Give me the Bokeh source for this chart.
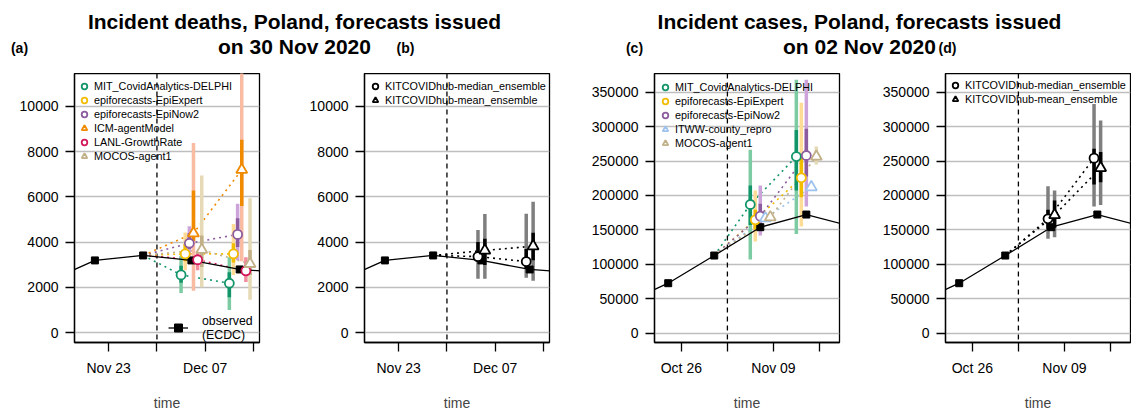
import math
import pandas as pd
from bokeh.plotting import figure
from bokeh.models import (Range1d, FixedTicker, BasicTickFormatter, Span, Legend,
                          LegendItem, Label)
from bokeh.layouts import column, row
from bokeh.embed import file_html
from bokeh.resources import INLINE

FONT = "Liberation Sans"
DAY = 86400000.0
NaN = float("nan")


def ms(s):
    return pd.Timestamp(s).value / 1e6


# ---------------------------------------------------------------- deaths data
death_obs_dates = ["2020-11-14", "2020-11-21", "2020-11-28", "2020-12-05", "2020-12-12", "2020-12-19"]
death_obs = [2230, 3190, 3410, 3190, 2790, 2640]
death_forecast_date = "2020-11-30"
death_last_obs = "2020-11-28"
death_targets = ["2020-12-05", "2020-12-12"]
death_xticks = ["2020-11-23", "2020-11-30", "2020-12-07", "2020-12-14"]
death_xlabels = ["Nov 23", "", "Dec 07", ""]
death_yticks = [0, 2000, 4000, 6000, 8000, 10000]

# quantiles (2.5%, 25%, 50%, 75%, 97.5%) for 1 and 2 weeks ahead
d_mit = [[1750, 2200, 2550, 2950, 3400], [1000, 1560, 2180, 2670, 3330]]
d_epiexpert = [[2750, 3150, 3480, 3900, 4420], [2550, 3100, 3480, 3950, 4800]]
d_epinow2 = [[3400, 3700, 3950, 4400, 4700], [3200, 3780, 4340, 5050, 5700]]
d_icm = [[1850, 4050, 4390, 6280, 8380], [3150, 5600, 7200, 8530, 12500]]
d_lanl = [[2750, 3000, 3220, 3400, 3600], [2230, 2520, 2730, 2970, 3330]]
d_mocos = [[2000, 2900, 3660, 4290, 6950], [1450, 2540, 3040, 3650, 5940]]
d_median_ens = [[2380, 3150, 3360, 4000, 4540], [2420, 2830, 3140, 3700, 5250]]
d_mean_ens = [[2380, 2990, 3630, 4150, 5240], [2290, 3200, 3820, 4410, 5790]]

death_models = ["MIT_CovidAnalytics-DELPHI", "epiforecasts-EpiExpert", "epiforecasts-EpiNow2",
                "ICM-agentModel", "LANL-GrowthRate", "MOCOS-agent1"]
death_quants = [d_mit, d_epiexpert, d_epinow2, d_icm, d_lanl, d_mocos]

# ---------------------------------------------------------------- cases data
case_obs_dates = ["2020-10-17", "2020-10-24", "2020-10-31", "2020-11-07", "2020-11-14", "2020-11-21"]
case_obs = [41500, 72400, 112600, 153800, 172200, 154600]
case_forecast_date = "2020-11-02"
case_last_obs = "2020-10-31"
case_targets = ["2020-11-07", "2020-11-14"]
case_xticks = ["2020-10-26", "2020-11-02", "2020-11-09", "2020-11-16"]
case_xlabels = ["Oct 26", "", "Nov 09", ""]
case_yticks = [0, 50000, 100000, 150000, 200000, 250000, 300000, 350000]

c_mit = [[107000, 157000, 186800, 214400, 266300], [144000, 207000, 256500, 295000, 368000]]
c_epiexpert = [[133000, 150000, 164500, 179000, 207000], [154800, 197400, 225600, 258000, 334600]]
c_epinow2 = [[141700, 161000, 169800, 187800, 214400], [183900, 227500, 258000, 296800, 368000]]
c_itww = [[NaN, NaN, 166900, NaN, NaN], [NaN, NaN, 212000, NaN, NaN]]
c_mocos = [[164000, 166500, 168300, 170500, 173000], [245000, 251000, 256500, 262000, 271000]]
c_median_ens = [[137000, 151500, 166000, 179000, 213400], [184000, 216000, 254100, 268000, 333000]]
c_mean_ens = [[139200, 153000, 171500, 192600, 207000], [186000, 219000, 240000, 263000, 309000]]

case_models = ["MIT_CovidAnalytics-DELPHI", "epiforecasts-EpiExpert", "epiforecasts-EpiNow2",
               "ITWW-county_repro", "MOCOS-agent1"]
case_quants = [c_mit, c_epiexpert, c_epinow2, c_itww, c_mocos]

ens_models = ["KITCOVIDhub-median_ensemble", "KITCOVIDhub-mean_ensemble"]

# ---------------------------------------------------------------- styles
STYLE = {
    "MIT_CovidAnalytics-DELPHI": ("circle", "#13956A", "#7DCBA3"),
    "epiforecasts-EpiExpert": ("circle", "#F2BC00", "#FFDC96"),
    "epiforecasts-EpiNow2": ("circle", "#8C5C9F", "#CCA4DA"),
    "ICM-agentModel": ("triangle", "#F08A00", "#F9BBA2"),
    "LANL-GrowthRate": ("circle", "#D2185B", "#F08C9C"),
    "MOCOS-agent1": ("triangle", "#C2B088", "#E6D9B6"),
    "ITWW-county_repro": ("triangle", "#9EC2EE", "#C9DDF5"),
    "KITCOVIDhub-median_ensemble": ("circle", "black", "#7F7F7F"),
    "KITCOVIDhub-mean_ensemble": ("triangle", "black", "#7F7F7F"),
}


def make_panel(left, right, xr, yr, yticks, xticks, xlabels,
               obs_dates, obs_vals, fdate, last_obs, targets, names, quants, dx,
               leg_loc, obs_legend=False):
    p = figure(frame_width=185, frame_height=269, title=None,
               x_range=Range1d(ms(xr[0]), ms(xr[1])), y_range=Range1d(*yr),
               output_backend="svg", toolbar_location=None,
               min_border_left=left, min_border_right=right,
               min_border_top=0, min_border_bottom=69)
    p.outline_line_color = "black"
    p.outline_line_width = 1.3
    p.outline_line_alpha = 1.0
    p.xgrid.visible = False
    p.ygrid.ticker = FixedTicker(ticks=yticks)
    p.ygrid.grid_line_color = "#BEBEBE"
    p.ygrid.grid_line_width = 1.5

    xa, ya = p.xaxis[0], p.yaxis[0]
    for ax in (xa, ya):
        ax.major_tick_in = 0
        ax.major_tick_out = 9
        ax.minor_tick_in = 0
        ax.minor_tick_out = 0
        ax.major_tick_line_width = 1.3
        ax.axis_line_width = 1.3
        ax.major_label_text_font = FONT
        ax.major_label_text_font_size = "14px"
        ax.major_label_text_color = "black"
    ya.ticker = FixedTicker(ticks=yticks)
    ya.formatter = BasicTickFormatter(use_scientific=False)
    ya.major_label_standoff = 7
    xt = [ms(t) for t in xticks]
    xa.ticker = FixedTicker(ticks=xt)
    xa.major_label_overrides = {v: lab for v, lab in zip(xt, xlabels)}
    xa.major_label_standoff = 8
    xa.axis_label = "time"
    xa.axis_label_text_font = FONT
    xa.axis_label_text_font_size = "14px"
    xa.axis_label_text_font_style = "normal"
    xa.axis_label_standoff = 16

    p.add_layout(Span(location=ms(fdate), dimension="height", line_color="black",
                      line_dash="5 4", line_width=1.3, level="underlay"))

    ox = [ms(d) for d in obs_dates]
    last_val = obs_vals[obs_dates.index(last_obs)]
    n = len(names)
    geo = []
    for i, (name, q) in enumerate(zip(names, quants)):
        off = (i - (n - 1) / 2) * dx * DAY
        xs = [ms(t) + off for t in targets]
        geo.append((name, xs, q))

    # dotted connections from last observation
    for name, xs, q in geo:
        dark = STYLE[name][1]
        p.line([ms(last_obs)] + xs, [last_val] + [qq[2] for qq in q],
               line_color=dark, line_dash="2 4", line_width=1.6)
    # 95% intervals
    for name, xs, q in geo:
        light = STYLE[name][2]
        p.segment(x0=xs, y0=[qq[0] for qq in q], x1=xs, y1=[qq[4] for qq in q],
                  line_color=light, line_width=3.5)
    # 50% intervals
    for name, xs, q in geo:
        dark = STYLE[name][1]
        p.segment(x0=xs, y0=[qq[1] for qq in q], x1=xs, y1=[qq[3] for qq in q],
                  line_color=dark, line_width=3.5)
    # observed
    obs_line = p.line(ox, obs_vals, line_color="black", line_width=1.3)
    obs_pts = p.scatter(ox, obs_vals, marker="square", size=7, fill_color="black",
                        line_color="black")
    # medians
    rends = []
    for name, xs, q in geo:
        marker, dark, light = STYLE[name]
        r = p.scatter(xs, [qq[2] for qq in q], marker=marker,
                      size=9 if marker == "circle" else 11,
                      fill_color="white", line_color=dark, line_width=1.8)
        rends.append(r)

    leg = Legend(items=[LegendItem(label=nm, renderers=[r]) for nm, r in zip(names, rends)],
                 location=leg_loc, orientation="vertical",
                 background_fill_alpha=0, border_line_alpha=0,
                 padding=0, margin=0, spacing=0,
                 glyph_width=14, glyph_height=14, label_height=14, label_standoff=3,
                 label_text_font=FONT, label_text_font_size="10.8px",
                 label_text_color="black")
    p.add_layout(leg)

    if obs_legend:
        leg2 = Legend(items=[LegendItem(label="observed\n(ECDC)", renderers=[obs_line, obs_pts])],
                      location=(94, 0), background_fill_alpha=0, border_line_alpha=0,
                      padding=0, margin=0, spacing=0,
                      glyph_width=20, glyph_height=29, label_height=29, label_standoff=14,
                      label_text_font=FONT, label_text_font_size="12.3px",
                      label_text_color="black")
        p.add_layout(leg2)
    return p


d_xr = ("2020-11-18 01:00", "2020-12-14 21:00")
d_yr = (-442, 11460)
c_xr = ("2020-10-21 22:00", "2020-11-19 01:00")
c_yr = (-13800, 377200)

pa = make_panel(74, 31, d_xr, d_yr, death_yticks, death_xticks, death_xlabels,
                death_obs_dates, death_obs, death_forecast_date, death_last_obs, death_targets,
                death_models, death_quants, 0.6, (3, 179), obs_legend=True)
pb = make_panel(74, 31, d_xr, d_yr, death_yticks, death_xticks, death_xlabels,
                death_obs_dates, death_obs, death_forecast_date, death_last_obs, death_targets,
                ens_models, [d_median_ens, d_mean_ens], 1.0, (4, 235))
pc = make_panel(74, 31, c_xr, c_yr, case_yticks, case_xticks, case_xlabels,
                case_obs_dates, case_obs, case_forecast_date, case_last_obs, case_targets,
                case_models, case_quants, 0.76, (4, 192))
pd_ = make_panel(75, 1, c_xr, c_yr, case_yticks, case_xticks, case_xlabels,
                 case_obs_dates, case_obs, case_forecast_date, case_last_obs, case_targets,
                 ens_models, [c_median_ens, c_mean_ens], 1.0, (3, 236))

# ---------------------------------------------------------------- titles strip
STRIP_H = 73
t = figure(width=1131, height=STRIP_H, title=None, x_range=Range1d(0, 1131),
           y_range=Range1d(STRIP_H, 0),
           output_backend="svg", toolbar_location=None, min_border=0,
           x_axis_location=None, y_axis_location=None)
t.grid.visible = False
t.outline_line_color = None

titles = [
    (294, 21, "Incident deaths, Poland, forecasts issued", "21px"),
    (294, 46, "on 30 Nov 2020", "21px"),
    (859, 21, "Incident cases, Poland, forecasts issued", "21px"),
    (859, 46, "on 02 Nov 2020", "21px"),
    (19, 47, "(a)", "14px"),
    (405, 47, "(b)", "14px"),
    (634, 47, "(c)", "14px"),
    (947, 47, "(d)", "14px"),
]
for x, y, txt, fs in titles:
    t.add_layout(Label(x=x, y=y, text=txt, text_align="center", text_baseline="alphabetic",
                       text_font=FONT, text_font_style="bold", text_font_size=fs,
                       text_color="black"))

layout = column(t, row(pa, pb, pc, pd_))
open("out.html", "w").write(file_html(layout, INLINE))
